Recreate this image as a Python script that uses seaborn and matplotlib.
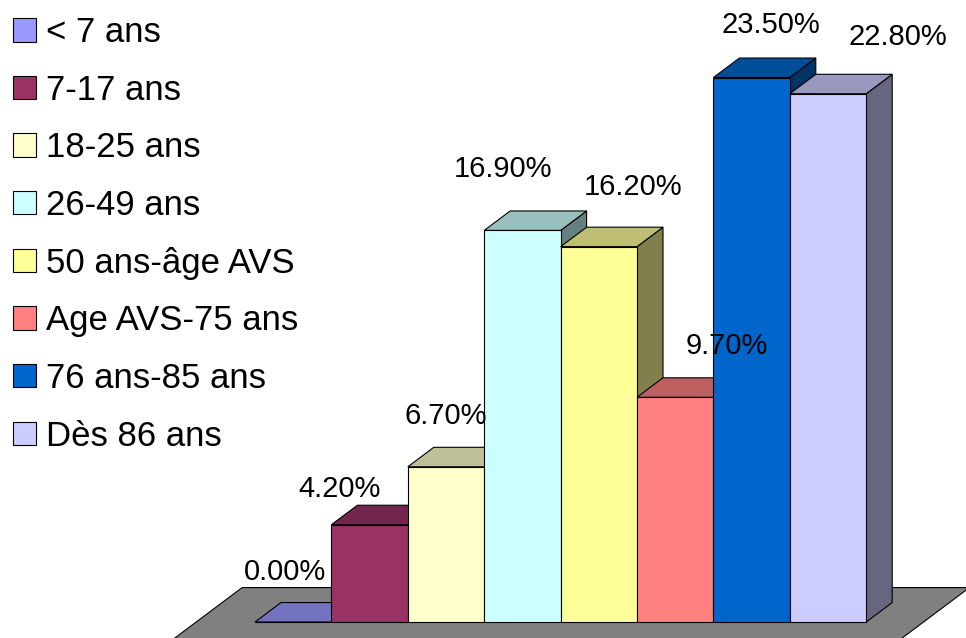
import numpy as np
import pandas as pd
import matplotlib
matplotlib.use("Agg")
import matplotlib.pyplot as plt
import seaborn as sns
from matplotlib.patches import Polygon, Patch
from matplotlib.colors import to_rgb

categories = ["< 7 ans", "7-17 ans", "18-25 ans", "26-49 ans", "50 ans-âge AVS",
              "Age AVS-75 ans", "76 ans-85 ans", "Dès 86 ans"]
shares = [0.0, 4.2, 6.7, 16.9, 16.2, 9.7, 23.5, 22.8]
colors = ["#9999FF", "#993366", "#FFFFCC", "#CCFFFF", "#FFFF99", "#FF8080", "#0066CC", "#CCCCFF"]

# nudges for the value labels, as placed in the original (bar units / percent points)
label_dx = [-0.11, -0.39, -0.01, -0.26, 0.45, 0.67, 0.25, 0.91]
label_dy = [1.80, 1.20, 1.85, 2.32, 2.23, 1.87, 1.92, 2.10]

sns.set_style("white")
plt.rcParams["font.family"] = ["Liberation Sans", "DejaVu Sans"]
plt.rcParams["text.color"] = "black"

fig = plt.figure(figsize=(9.66, 6.38), dpi=100)
ax = fig.add_axes([0, 0, 1, 1])

df = pd.DataFrame({"age": categories, "share": shares})
sns.barplot(data=df, x="age", y="share", hue="age", palette=colors, width=1,
            saturation=1, legend=False, edgecolor="black", linewidth=0.8, ax=ax)

# fake 3d: depth offset of the top / side faces
dx, dy = 0.34, 0.84
n = len(categories)

# grey floor
xl, xr = -0.5 - 0.77, n - 0.5 + 0.75
tf, tb = -0.9, 1.77
floor = Polygon([(xl + tf * dx, tf * dy), (xr + tf * dx, tf * dy),
                 (xr + tb * dx, tb * dy), (xl + tb * dx, tb * dy)],
                closed=True, fc="#808080", ec="black", lw=0.8, zorder=1)
ax.add_patch(floor)

bars = sorted(ax.patches[:-1], key=lambda p: p.get_x())
for i, (bar, c) in enumerate(zip(bars, colors)):
    x0 = bar.get_x()
    x1 = x0 + bar.get_width()
    h = bar.get_height()
    rgb = np.array(to_rgb(c))
    side = Polygon([(x1, 0), (x1 + dx, dy), (x1 + dx, h + dy), (x1, h)],
                   closed=True, fc=rgb * 0.5, ec="black", lw=0.8, zorder=10 + 3 * i)
    top = Polygon([(x0, h), (x1, h), (x1 + dx, h + dy), (x0 + dx, h + dy)],
                  closed=True, fc=rgb * 0.75, ec="black", lw=0.8, zorder=11 + 3 * i)
    ax.add_patch(side)
    ax.add_patch(top)
    bar.set_zorder(12 + 3 * i)
    ax.text(x0 + 0.5 + label_dx[i], h + label_dy[i], f"{shares[i]:.2f}%",
            ha="center", va="baseline", fontsize=21, zorder=50)

handles = [Patch(fc=c, ec="black", lw=0.8) for c in colors]
ax.legend(handles, categories, loc="upper left", bbox_to_anchor=(13 / 966, 1 - 16 / 638),
          bbox_transform=fig.transFigure, frameon=False, fontsize=25,
          handlelength=0.66, handleheight=0.66, handletextpad=0.3,
          labelspacing=0.71, borderaxespad=0, borderpad=0)

ax.set_xlim(-3.838, 8.806)
ax.set_ylim(-0.69, 26.845)
ax.axis("off")

fig.savefig("out.png", dpi=100)
